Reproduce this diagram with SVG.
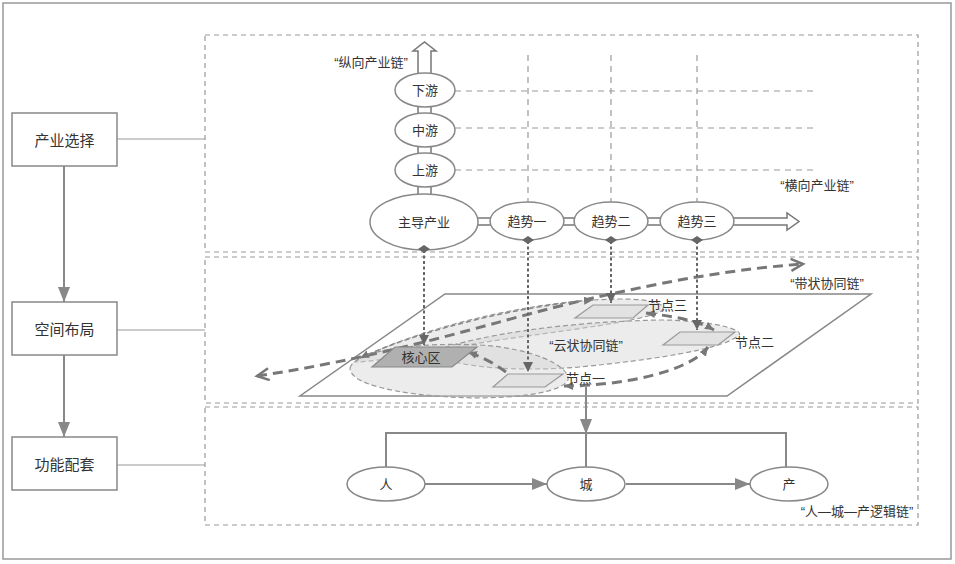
<svg xmlns="http://www.w3.org/2000/svg" width="955" height="564" viewBox="0 0 955 564">
<style>
text{font-family:"Liberation Sans","Noto Sans CJK SC",sans-serif;fill:#333;}
.t13{font-size:13px;text-anchor:middle;dominant-baseline:central;}
.tl{font-size:13px;dominant-baseline:central;}
.t15{font-size:15px;text-anchor:middle;dominant-baseline:central;}
.box{fill:#fff;stroke:#888;stroke-width:1.5;}
.dbox{fill:none;stroke:#999;stroke-width:1.2;stroke-dasharray:5 4;}
.ell{fill:#fff;stroke:#888;stroke-width:1.5;}
.thin{stroke:#999;stroke-width:1;fill:none;}
.conn{stroke:#888;stroke-width:2;fill:none;}
.grid{stroke:#999;stroke-width:1.2;stroke-dasharray:6 5;fill:none;}
.dot{stroke:#666;stroke-width:2;stroke-dasharray:3 2.5;fill:none;}
.thick{stroke:#777;stroke-width:3;stroke-dasharray:10 6;fill:none;}
.cloud{fill:#d4d4d4;fill-opacity:0.45;stroke:#999;stroke-width:1.2;stroke-dasharray:5 3;}
.dia{fill:#666;}
</style>
<defs>
<marker id="af" markerUnits="userSpaceOnUse" markerWidth="16" markerHeight="12" refX="15" refY="6" orient="auto"><path d="M0,0 L15,6 L0,12 Z" fill="#888"/></marker>
<marker id="dh" markerUnits="userSpaceOnUse" markerWidth="12" markerHeight="10" refX="10" refY="5" orient="auto"><path d="M0,0 L10,5 L0,10 Z" fill="#666"/></marker>
<marker id="chev" markerUnits="userSpaceOnUse" markerWidth="16" markerHeight="14" refX="13" refY="7" orient="auto-start-reverse"><path d="M1,1 L13,7 L1,13" fill="none" stroke="#777" stroke-width="2.5"/></marker>
<marker id="sh" markerUnits="userSpaceOnUse" markerWidth="10" markerHeight="8" refX="9" refY="4" orient="auto-start-reverse"><path d="M0,0 L9,4 L0,8 Z" fill="#777"/></marker>
</defs>

<rect x="3" y="3" width="948" height="556" fill="#fff" stroke="#999" stroke-width="1.5"/>

<g id="panels">
<rect class="dbox" x="205" y="35" width="713" height="217"/>
<rect class="dbox" x="205" y="257" width="713" height="146"/>
<rect class="dbox" x="205" y="407" width="713" height="118"/>
</g>

<g id="connectors">
<line class="thin" x1="117" y1="139" x2="205" y2="139"/>
<line class="thin" x1="117" y1="330" x2="205" y2="330"/>
<line class="thin" x1="117" y1="465" x2="205" y2="465"/>
<line class="conn" x1="64" y1="166" x2="64" y2="302" marker-end="url(#af)"/>
<line class="conn" x1="64" y1="355" x2="64" y2="437" marker-end="url(#af)"/>

<!-- top grid -->
<line class="grid" x1="455" y1="91" x2="813" y2="91"/>
<line class="grid" x1="455" y1="128" x2="813" y2="128"/>
<line class="grid" x1="455" y1="170" x2="813" y2="170"/>
<line class="grid" x1="528" y1="55" x2="528" y2="202"/>
<line class="grid" x1="611" y1="55" x2="611" y2="202"/>
<line class="grid" x1="697" y1="55" x2="697" y2="202"/>

<!-- vertical hollow arrow -->
<path d="M418,200 L418,51 L413,51 L424.5,42 L436,51 L431,51 L431,200" fill="#fff" stroke="#777" stroke-width="1.5"/>
<!-- horizontal hollow arrow -->
<path d="M470,218 L787,218 L787,213 L799,221.5 L787,230 L787,225 L470,225" fill="#fff" stroke="#777" stroke-width="1.5"/>

<!-- plane -->
<path d="M445,294 L871,294 L727,396 L300,396 Z" fill="none" stroke="#888" stroke-width="1.5"/>

<!-- clouds -->
<path class="cloud" d="M355,362 C400,335 520,300 620,299 C655,299 670,305 660,312 C630,325 520,335 450,348 C400,357 370,362 355,362 Z"/>
<path class="cloud" d="M430,352 C480,335 560,322 660,320 C710,320 748,330 738,336 C720,350 650,360 580,367 C520,372 450,368 430,352 Z"/>
<path class="cloud" d="M350,368 C355,350 420,342 480,345 C530,348 570,365 568,380 C560,395 500,400 450,397 C400,394 350,385 350,368 Z"/>

<!-- band chain -->
<path class="thick" d="M257,376 C310,368 360,358 420,343 S540,310 593,298 S720,270 803,264" marker-start="url(#chev)" marker-end="url(#chev)"/>

<!-- cloud links -->
<path class="thick" d="M506,372 Q490,360 468,352" marker-end="url(#sh)"/>
<path class="thick" d="M564,386 C620,386 690,372 708,347" marker-start="url(#sh)" marker-end="url(#sh)"/>
<path class="thick" d="M646,313 C680,317 700,322 714,330" marker-start="url(#sh)" marker-end="url(#sh)"/>
<path d="M360,358 C420,330 520,306 593,300" fill="none" stroke="#888" stroke-width="1.5" stroke-dasharray="5 3" marker-start="url(#sh)" marker-end="url(#sh)"/>

<!-- dotted projections -->
<line class="dot" x1="424" y1="250" x2="424" y2="345" marker-end="url(#dh)"/>
<line class="dot" x1="528" y1="241" x2="528" y2="372" marker-end="url(#dh)"/>
<line class="dot" x1="611" y1="241" x2="611" y2="303" marker-end="url(#dh)"/>
<line class="dot" x1="697" y1="241" x2="697" y2="330" marker-end="url(#dh)"/>

<!-- bottom logic chain -->
<line class="conn" x1="586" y1="387" x2="586" y2="434" marker-end="url(#af)"/>
<path class="conn" d="M386,467 L386,433 L786,433 L786,467"/>
<line class="conn" x1="586" y1="433" x2="586" y2="467"/>
<line class="conn" x1="425" y1="484" x2="547" y2="484" marker-end="url(#af)"/>
<line class="conn" x1="626" y1="484" x2="750" y2="484" marker-end="url(#af)"/>
</g>

<g id="n-chanye"><rect class="box" x="12" y="113" width="105" height="53"/><text class="t15" x="64.5" y="140">产业选择</text></g>
<g id="n-kongjian"><rect class="box" x="12" y="302" width="105" height="53"/><text class="t15" x="64.5" y="329">空间布局</text></g>
<g id="n-gongneng"><rect class="box" x="12" y="437" width="105" height="53"/><text class="t15" x="64.5" y="464">功能配套</text></g>

<g id="n-xiayou"><ellipse class="ell" cx="425" cy="90" rx="30" ry="17"/><text class="t13" x="425" y="90">下游</text></g>
<g id="n-zhongyou"><ellipse class="ell" cx="425" cy="130" rx="30" ry="17"/><text class="t13" x="425" y="130">中游</text></g>
<g id="n-shangyou"><ellipse class="ell" cx="425" cy="170" rx="30" ry="17"/><text class="t13" x="425" y="170">上游</text></g>
<g id="n-zhudao"><ellipse class="ell" cx="424" cy="222" rx="54" ry="28"/><text class="t13" x="424" y="222">主导产业</text><polygon class="dia" points="418,249 424,245 430,249 424,253"/></g>
<g id="n-qushi1"><ellipse class="ell" cx="527" cy="221" rx="37" ry="19"/><text class="t13" x="527" y="221">趋势一</text><polygon class="dia" points="522,240 528,236 534,240 528,244"/></g>
<g id="n-qushi2"><ellipse class="ell" cx="611" cy="221" rx="37" ry="19"/><text class="t13" x="611" y="221">趋势二</text><polygon class="dia" points="605,240 611,236 617,240 611,244"/></g>
<g id="n-qushi3"><ellipse class="ell" cx="697" cy="221" rx="37" ry="19"/><text class="t13" x="697" y="221">趋势三</text><polygon class="dia" points="691,240 697,236 703,240 697,244"/></g>

<g id="n-hexin"><path d="M395,347 L477,347 L452,367 L372,367 Z" fill="#b0b0b0" stroke="#888" stroke-width="1.2"/><text class="t13" x="421" y="357">核心区</text></g>
<g id="n-jd1"><path d="M508,374 L563,374 L545,387 L493,387 Z" fill="#e2e2e2" stroke="#999" stroke-width="1.2"/><text class="tl" x="566" y="378">节点一</text></g>
<g id="n-jd3"><path d="M593,305 L648,305 L633,318 L575,318 Z" fill="#e2e2e2" stroke="#999" stroke-width="1.2"/><text class="tl" x="648" y="305">节点三</text></g>
<g id="n-jd2"><path d="M680,332 L735,332 L718,345 L663,345 Z" fill="#e2e2e2" stroke="#999" stroke-width="1.2"/><text class="tl" x="735" y="342">节点二</text></g>

<g id="n-ren"><ellipse class="ell" cx="386" cy="484" rx="39" ry="17"/><text class="t13" x="386" y="484">人</text></g>
<g id="n-cheng"><ellipse class="ell" cx="586" cy="484" rx="39" ry="17"/><text class="t13" x="586" y="484">城</text></g>
<g id="n-chan"><ellipse class="ell" cx="789" cy="484" rx="39" ry="17"/><text class="t13" x="789" y="484">产</text></g>

<g id="labels">
<text class="t13" x="371" y="62">“纵向产业链”</text>
<text class="t13" x="817" y="185">“横向产业链”</text>
<text class="t13" x="827" y="283">“带状协同链”</text>
<text class="t13" x="586" y="345">“云状协同链”</text>
<text class="t13" x="857" y="511">“人—城—产逻辑链”</text>
</g>
</svg>
